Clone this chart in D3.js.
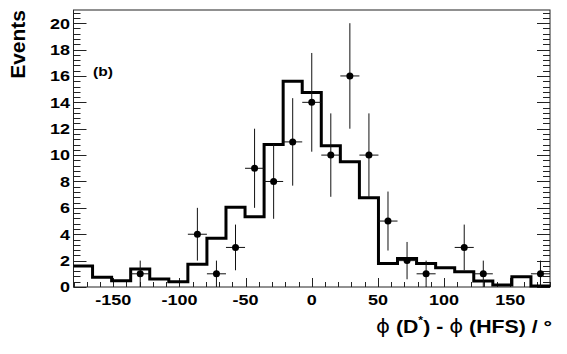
<!DOCTYPE html>
<html>
<head>
<meta charset="utf-8">
<script src="https://cdn.jsdelivr.net/npm/d3@7"></script>
<style>
  body { margin: 0; background: #fff; }
  svg { display: block; font-family: "Liberation Sans", Arial, sans-serif; }
</style>
</head>
<body>
<svg id="chart" width="567" height="354"></svg>
<script>
// bin centres, 25 bins of 14.4 deg over [-180, 180]
const binCenters = [-172.8, -158.4, -144, -129.6, -115.2, -100.8, -86.4, -72, -57.6, -43.2,
  -28.8, -14.4, 0, 14.4, 28.8, 43.2, 57.6, 72, 86.4, 100.8, 115.2, 129.6, 144, 158.4, 172.8];
const binWidth = 14.4;

// simulation histogram (thick line)
const mcValues = [1.6, 0.73, 0.48, 1.36, 0.6, 0.4, 1.72, 3.69, 6.04, 5.33,
  10.81, 15.6, 14.75, 10.7, 9.5, 6.77, 1.79, 2.17, 1.79, 1.46, 1.16, 0.45, 0.15, 0.78, 0.08];

// data counts (points with sqrt(N) errors)
const dataCounts = [0, 0, 0, 1, 0, 0, 4, 1, 3, 9,
  8, 11, 14, 10, 16, 10, 5, 2, 1, 0, 3, 1, 0, 0, 1];

const xTicks = [-150, -100, -50, 0, 50, 100, 150];
const yTicks = [0, 2, 4, 6, 8, 10, 12, 14, 16, 18, 20];

const svg = d3.select("#chart");

const x = d3.scaleLinear().domain([-180, 180]).range([73.5, 550]);
const y = d3.scaleLinear().domain([0, 21]).range([287, 10]);

// frame
svg.append("rect")
  .attr("x", x(-180)).attr("y", y(21))
  .attr("width", x(180) - x(-180)).attr("height", y(0) - y(21))
  .attr("fill", "none").attr("stroke", "#222").attr("stroke-width", 1);

// y ticks, left and right, pointing inward
const yMinor = d3.range(0, 21.01, 0.4);
const ticks = svg.append("g").attr("stroke", "#222").attr("stroke-width", 1);
yMinor.forEach(v => {
  const major = Math.abs(v / 2 - Math.round(v / 2)) < 1e-6;
  const len = major ? 13 : 7;
  const yy = Math.round(y(v)) + 0.5;
  ticks.append("line").attr("x1", x(-180)).attr("x2", x(-180) + len).attr("y1", yy).attr("y2", yy);
  ticks.append("line").attr("x1", x(180)).attr("x2", x(180) - len).attr("y1", yy).attr("y2", yy);
});

// x ticks on the bottom, pointing up
d3.range(-180, 181, 10).forEach(v => {
  const len = v % 50 === 0 ? 9 : 5;
  const xx = Math.round(x(v)) + 0.5;
  ticks.append("line").attr("x1", xx).attr("x2", xx).attr("y1", y(0)).attr("y2", y(0) - len);
});

// tick labels (the original font is wide, so stretch a bit)
svg.append("g").selectAll("text").data(yTicks).join("text")
  .attr("transform", d => `translate(70,${y(d)}) scale(1.2,1)`)
  .attr("dy", "0.36em")
  .attr("text-anchor", "end")
  .attr("font-size", 15).attr("font-weight", "bold")
  .text(d => d);

svg.append("g").selectAll("text").data(xTicks).join("text")
  .attr("transform", d => `translate(${x(d)},305) scale(1.2,1)`)
  .attr("text-anchor", "middle")
  .attr("font-size", 15).attr("font-weight", "bold")
  .text(d => d);

// histogram
const stepPts = binCenters.map((c, i) => [c - binWidth / 2, mcValues[i]]);
stepPts.push([180, mcValues[mcValues.length - 1]]);
const step = d3.line().x(d => x(d[0])).y(d => y(d[1])).curve(d3.curveStepAfter);
svg.append("path")
  .datum(stepPts)
  .attr("fill", "none")
  .attr("stroke", "#000")
  .attr("stroke-width", 3)
  .attr("d", step);

// data points
const pts = binCenters.map((c, i) => ({ c, n: dataCounts[i] })).filter(d => d.n > 0);
const g = svg.append("g").attr("stroke", "#111").attr("stroke-width", 1);
pts.forEach(d => {
  const e = Math.sqrt(d.n);
  g.append("line")
    .attr("x1", x(d.c)).attr("x2", x(d.c))
    .attr("y1", y(d.n - e)).attr("y2", y(d.n + e));
  g.append("line")
    .attr("x1", x(d.c - binWidth / 2)).attr("x2", x(d.c + binWidth / 2))
    .attr("y1", y(d.n)).attr("y2", y(d.n));
});
svg.append("g").selectAll("circle").data(pts).join("circle")
  .attr("cx", d => x(d.c)).attr("cy", d => y(d.n))
  .attr("r", 3.5).attr("fill", "#000");

// label
svg.append("text")
  .attr("transform", "translate(93,76) scale(1.2,1)")
  .attr("font-size", 13).attr("font-weight", "bold")
  .text("(b)");

// axis titles
svg.append("text")
  .attr("transform", "translate(25,10) rotate(-90) scale(1.05,1)")
  .attr("text-anchor", "end")
  .attr("font-size", 20).attr("font-weight", "bold")
  .text("Events");

const xt = svg.append("text")
  .attr("transform", "translate(552,333) scale(1.12,1)")
  .attr("text-anchor", "end")
  .attr("font-size", 19).attr("font-weight", "bold");
xt.append("tspan").attr("font-weight", "normal").attr("font-family", "DejaVu Sans").text("\u03d5");
xt.append("tspan").text(" (D");
xt.append("tspan").attr("font-size", 11).attr("dy", -9).text("*");
xt.append("tspan").attr("dy", 9).text(") - ");
xt.append("tspan").attr("font-weight", "normal").attr("font-family", "DejaVu Sans").text("\u03d5");
xt.append("tspan").text(" (HFS) / \u00b0");
</script>
</body>
</html>
